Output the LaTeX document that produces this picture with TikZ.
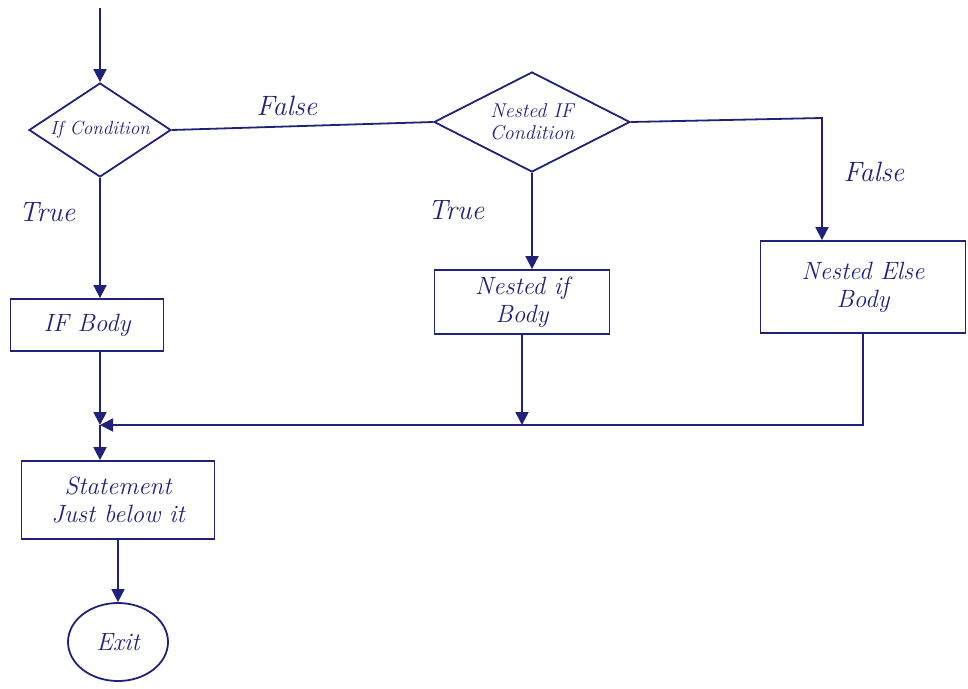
\documentclass[tikz,border=0pt]{standalone}
\usetikzlibrary{shapes.geometric,arrows.meta}
\definecolor{ink}{RGB}{32,34,120}
\begin{document}
\begin{tikzpicture}[x=1pt,y=-1pt, line width=1.8pt,
  every node/.style={text=ink, font=\itshape\fontsize{25}{28}\selectfont},
  conn/.style={draw=ink, line width=1.8pt},
  flow/.style={conn, -{Triangle[length=13pt,width=13pt]}},
  decision/.style={diamond, draw=ink, line width=1.8pt, inner sep=0pt, align=center},
  box/.style={rectangle, draw=ink, line width=1.8pt, align=center, inner sep=2pt},
  lbl/.style={font=\itshape\fontsize{28}{30}\selectfont}
]
\useasboundingbox (0,0) rectangle (968,688);
% nodes
\coordinate (start) at (100,8);
\node[decision, aspect=1.5, minimum width=142pt, minimum height=94pt, font=\itshape\fontsize{19}{21}\selectfont] (d1) at (100,130) {If Condition};
\node[decision, aspect=1.95, minimum width=196pt, minimum height=100pt, font=\itshape\fontsize{20}{22}\selectfont] (d2) at (532,122) {Nested IF\\Condition};
\node[box, minimum width=153pt, minimum height=52pt] (ifbody) at (87,325) {IF Body};
\node[box, minimum width=175pt, minimum height=64pt] (nifbody) at (522,302) {Nested if\\Body};
\node[box, minimum width=205pt, minimum height=92pt] (nelse) at (863,287) {Nested Else\\Body};
\node[box, minimum width=193pt, minimum height=78pt] (stmt) at (118,500) {Statement\\Just below it};
\node[ellipse, draw=ink, line width=1.8pt, minimum width=100pt, minimum height=78pt, inner sep=0pt] (exit) at (118,642) {Exit};
\coordinate (merge) at (100,425);
\coordinate (fcorner) at (822,118);
% labels
\node[lbl] (lfalse1) at (287,106) {False};
\node[lbl] (ltrue1) at (47,212) {True};
\node[lbl] (ltrue2) at (456,210) {True};
\node[lbl] (lfalse2) at (874,172) {False};
% connectors
\draw[flow] (start) -- (d1.north);
\draw[conn] (d1.east) -- (d2.west);
\draw[flow] (d1.south) -- (d1.south |- ifbody.north);
\draw[flow] (d2.south) -- (d2.south |- nifbody.north);
\draw[flow] (d2.east) -- (fcorner) -- (fcorner |- nelse.north);
\draw[flow] (ifbody.south -| merge) -- (merge);
\draw[flow] (nifbody.south) -- (nifbody.south |- merge);
\draw[flow] (nelse.south) |- (merge);
\draw[flow] (merge) -- (merge |- stmt.north);
\draw[flow] (stmt.south -| exit.north) -- (exit.north);
\end{tikzpicture}
\end{document}
